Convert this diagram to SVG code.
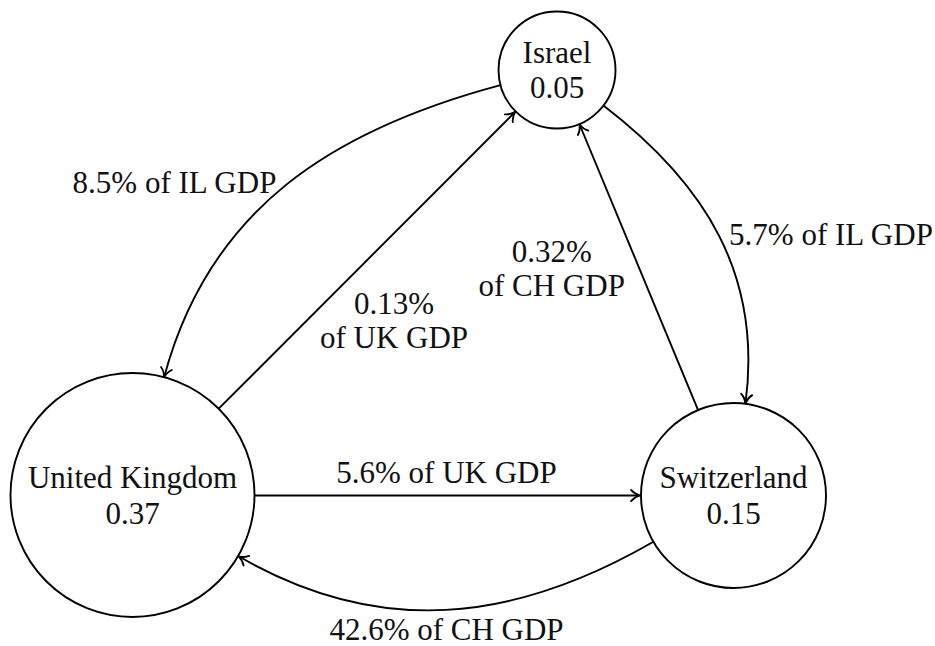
<svg xmlns="http://www.w3.org/2000/svg" width="935" height="646" viewBox="0 0 935 646">
<style>
.node{fill:#fff;stroke:#000;stroke-width:1.9}
.lbl{font-size:31px;fill:#111;text-anchor:middle}
.edge{fill:none;stroke:#000;stroke-width:1.9;marker-end:url(#arr)}
</style>
<defs>
<marker id="arr" markerUnits="userSpaceOnUse" viewBox="-12 -7 14 14" refX="0" refY="0" markerWidth="14" markerHeight="14" orient="auto" overflow="visible">
<path d="M -9,-5.6 C -6.6,-2.6 -2.6,-0.7 0,0 C -2.6,0.7 -6.6,2.6 -9,5.6" fill="none" stroke="#000" stroke-width="1.8" stroke-linecap="round" stroke-linejoin="round"/>
</marker>
</defs>
<g id="connectors">
<path class="edge" d="M 254.5,495.5 L 640,495.5"/>
<path class="edge" d="M 218.7,408.7 L 515.2,111.9"/>
<path class="edge" d="M 698.1,410.1 L 579.6,124.5"/>
<path class="edge" d="M 500.5,85.1 C 332,130.2 209.2,208.7 164.1,377.2"/>
<path class="edge" d="M 603.4,105.6 C 706,184.3 762.3,275.6 745.5,403.3"/>
<path class="edge" d="M 653.4,541.75 C 512.6,623.05 379,637.3 238.6,556.3"/>
<text class="lbl" font-family="Liberation Serif" x="446.5" y="483">5.6% of UK GDP</text>
<text class="lbl" font-family="Liberation Serif" x="446.5" y="640">42.6% of CH GDP</text>
<text class="lbl" font-family="Liberation Serif" x="174.5" y="192.5">8.5% of IL GDP</text>
<text class="lbl" font-family="Liberation Serif" x="394" y="314">0.13%</text>
<text class="lbl" font-family="Liberation Serif" x="394" y="348">of UK GDP</text>
<text class="lbl" font-family="Liberation Serif" x="551.7" y="261.5">0.32%</text>
<text class="lbl" font-family="Liberation Serif" x="551.7" y="295.5">of CH GDP</text>
<text class="lbl" font-family="Liberation Serif" x="831" y="245">5.7% of IL GDP</text>
</g>
<g id="node-israel">
<circle class="node" cx="557" cy="70" r="58.5"/>
<text class="lbl" font-family="Liberation Serif" x="557" y="62.5">Israel</text>
<text class="lbl" font-family="Liberation Serif" x="557" y="98">0.05</text>
</g>
<g id="node-uk">
<circle class="node" cx="132.5" cy="495" r="122"/>
<text class="lbl" font-family="Liberation Serif" x="132.5" y="488">United Kingdom</text>
<text class="lbl" font-family="Liberation Serif" x="132.5" y="523.5">0.37</text>
</g>
<g id="node-switzerland">
<circle class="node" cx="733.5" cy="495.5" r="92.5"/>
<text class="lbl" font-family="Liberation Serif" x="733.5" y="488">Switzerland</text>
<text class="lbl" font-family="Liberation Serif" x="733.5" y="523.5">0.15</text>
</g>
</svg>
